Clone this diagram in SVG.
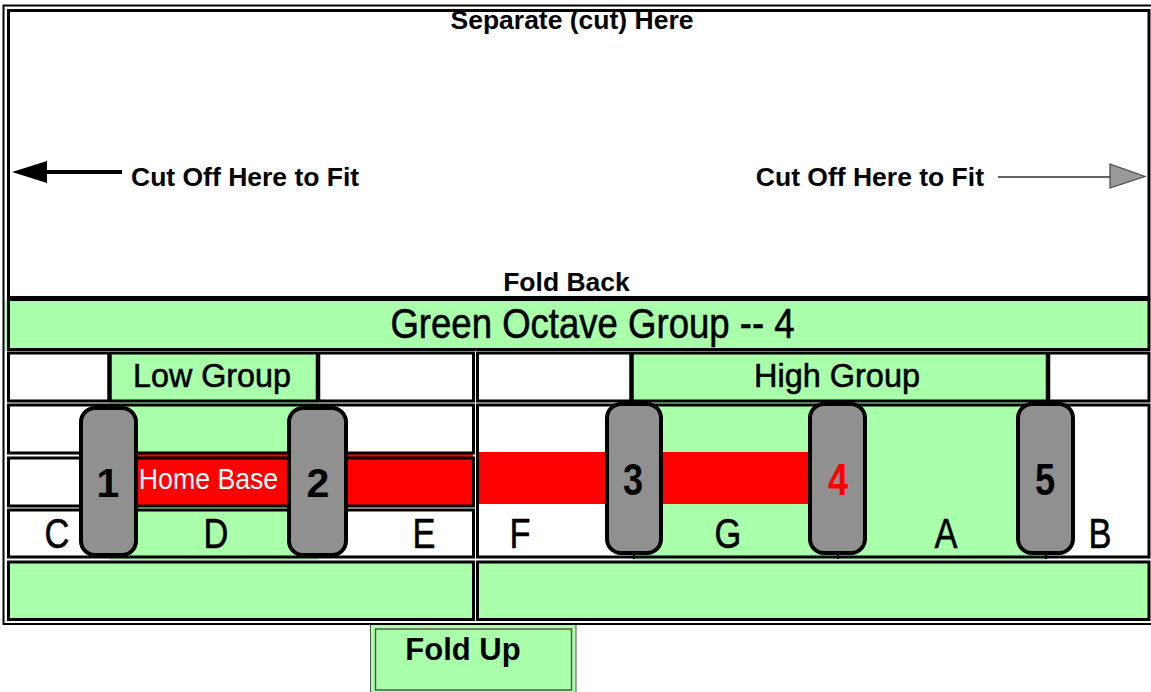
<svg xmlns="http://www.w3.org/2000/svg" width="1151" height="692" viewBox="0 0 1151 692">
<style>
text{font-family:"Liberation Sans",Arial,sans-serif;fill:#000}
.b{font-weight:bold}
.n{stroke:#000;stroke-width:0.6}
.cell{fill:none;stroke:#000;stroke-width:3}
.g{fill:#aaffaa}
.w{fill:#fff}
.r{fill:#ff0000}
.key{fill:#909090;stroke:#000;stroke-width:4}
.dig{font-weight:bold;font-size:41px;text-anchor:middle}
.dn{font-weight:bold;font-size:44px;text-anchor:middle}
.let{font-size:43px;text-anchor:middle}
</style>
<rect x="0" y="0" width="1151" height="692" fill="#fff"/>
<!-- outer table line -->
<path d="M1151,5.5 H3.5 V624 H1151" fill="none" stroke="#000" stroke-width="2"/>

<g id="top-panel">
<rect class="cell w" x="8.5" y="10.5" width="1140.5" height="287"/>
<text class="b" x="572" y="29" font-size="26.5" text-anchor="middle">Separate (cut) Here</text>
<text class="b" x="566.5" y="291" font-size="26.5" text-anchor="middle">Fold Back</text>
<text class="b" x="131" y="186" font-size="26.5">Cut Off Here to Fit</text>
<text class="b" x="984" y="186" font-size="26.5" text-anchor="end">Cut Off Here to Fit</text>
</g>

<g id="octave-band">
<rect class="g" x="5" y="299.5" width="1144" height="50"/>
<rect class="cell" x="8.5" y="299.5" width="1140.5" height="50"/>
<text class="n" transform="translate(592.5,338) scale(0.85,1)" font-size="43" text-anchor="middle">Green Octave Group -- 4</text>
</g>

<g id="grid">
<rect class="w" x="8.5" y="353" width="465" height="48"/>
<rect class="w" x="477.5" y="353" width="671.5" height="48"/>
<rect class="w" x="8.5" y="405" width="465" height="48"/>
<rect class="w" x="8.5" y="458" width="465" height="48"/>
<rect class="w" x="8.5" y="510" width="465" height="47"/>
<rect class="w" x="477.5" y="405" width="671.5" height="152"/>
<rect class="g" x="8.5" y="562" width="465" height="57.5"/>
<rect class="g" x="477.5" y="562" width="671.5" height="57.5"/>
<!-- overlays -->
<rect class="g" x="109.5" y="353" width="208.5" height="207"/>
<rect class="g" x="631.5" y="353" width="416.5" height="207"/>
<rect class="r" x="138" y="453" width="335" height="53"/>
<rect class="r" x="478" y="452" width="334" height="52"/>
<!-- cell borders -->
<rect class="cell" x="8.5" y="353" width="465" height="48"/>
<rect class="cell" x="477.5" y="353" width="671.5" height="48"/>
<rect class="cell" x="8.5" y="405" width="465" height="48"/>
<rect class="cell" x="8.5" y="458" width="465" height="48"/>
<rect class="cell" x="8.5" y="510" width="465" height="47"/>
<rect class="cell" x="477.5" y="405" width="671.5" height="152"/>
<rect class="cell" x="8.5" y="562" width="465" height="57.5"/>
<rect class="cell" x="477.5" y="562" width="671.5" height="57.5"/>
</g>

<g id="low-group">
<path d="M109.5,353 V401 M318,353 V401" stroke="#000" stroke-width="4.5"/>
<text class="n" transform="translate(212,387) scale(0.95,1)" font-size="34" text-anchor="middle">Low Group</text>
</g>
<g id="high-group">
<path d="M631.5,353 V401 M1048,353 V401" stroke="#000" stroke-width="4.5"/>
<text class="n" transform="translate(837,387) scale(0.955,1)" font-size="34" text-anchor="middle">High Group</text>
</g>

<g id="home-base">
<text transform="translate(208.5,489) scale(0.89,1)" font-size="30" text-anchor="middle" style="fill:#fff">Home Base</text>
</g>

<g id="notes">
<text class="let n" transform="translate(57,548) scale(0.8,1)">C</text>
<text class="let n" transform="translate(216,548) scale(0.8,1)">D</text>
<text class="let n" transform="translate(424,548) scale(0.8,1)">E</text>
<text class="let n" transform="translate(520,548) scale(0.8,1)">F</text>
<text class="let n" transform="translate(728,548) scale(0.8,1)">G</text>
<text class="let n" transform="translate(946,548) scale(0.8,1)">A</text>
<text class="let n" transform="translate(1100,548) scale(0.8,1)">B</text>
</g>

<g id="key-1"><rect class="key" x="81" y="408" width="55" height="147" rx="14"/><text class="dig" x="108" y="497">1</text></g>
<g id="key-2"><rect class="key" x="289" y="408" width="57" height="147" rx="14"/><text class="dig" x="318" y="497">2</text></g>
<g id="key-3"><rect class="key" x="607" y="404" width="54" height="149" rx="14"/><text class="dn" transform="translate(633,495) scale(0.82,1)">3</text></g>
<g id="key-4"><rect class="key" x="810" y="404" width="55" height="149" rx="14"/><text class="dn" transform="translate(838,495) scale(0.82,1)" style="fill:#ff0000">4</text></g>
<g id="key-5"><rect class="key" x="1018" y="404" width="55" height="149" rx="14"/><text class="dn" transform="translate(1045,495) scale(0.82,1)">5</text></g>

<g id="connectors">
<path d="M634,553 V559 M838,553 V559 M1046,553 V559" stroke="#000" stroke-width="2"/>
<line x1="122" y1="172" x2="46" y2="172" stroke="#000" stroke-width="4"/>
<path d="M12,172 L47,161 L47,183 Z" fill="#000"/>
<line x1="998" y1="177" x2="1110" y2="177" stroke="#333" stroke-width="1.5"/>
<path d="M1110,164 L1145,176.5 L1110,188 Z" fill="#999" stroke="#444" stroke-width="1.2"/>
</g>

<g id="fold-up">
<rect x="370.5" y="623.5" width="205.5" height="80" fill="#aaffaa" stroke="#555" stroke-width="1"/>
<rect x="375.5" y="629" width="196" height="61" fill="#aaffaa" stroke="#555" stroke-width="1.5"/>
<text class="b" x="463" y="660" font-size="31" text-anchor="middle">Fold Up</text>
</g>
<path d="M3.5,624 H1151" stroke="#000" stroke-width="2"/>
</svg>
